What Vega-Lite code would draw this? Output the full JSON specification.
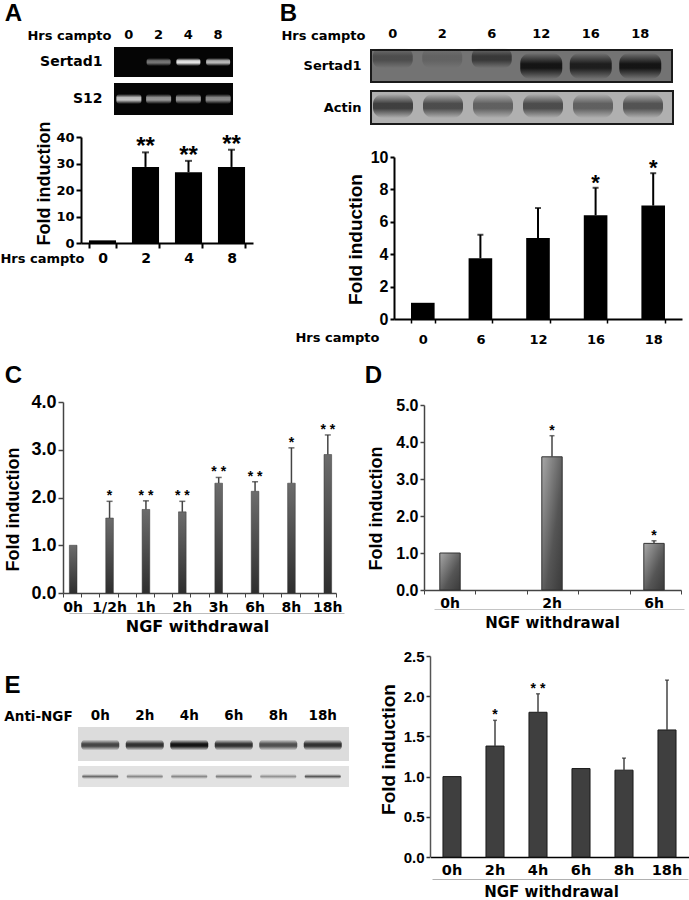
{
"$schema":"https://vega.github.io/schema/vega-lite/v6.json",
"width":689,"height":900,"padding":0,"autosize":{"type":"none"},"background":"#ffffff",
"config":{"view":{"stroke":null},"font":"Liberation Sans",
 "axis":{"grid":false,"labelOverlap":false,"labelFlush":false,"labelBound":false,"labelFontWeight":"bold","titleFontWeight":"bold","labelColor":"#000","titleColor":"#000","domainColor":"#000","tickColor":"#000","labelFont":"DejaVu Sans","titleFont":"DejaVu Sans"},
 "axisX":{"labelAngle":0},"axisY":{"labelAngle":0}},
"resolve":{"scale":{"x":"independent","y":"independent"},"axis":{"x":"independent","y":"independent"}},
"layer":[
{"data":{"values":[{"gel":"Sertad1"}]},"mark":{"type":"rect","color":"#050505"},
 "encoding":{"x":{"field":"gel","type":"nominal","axis":null,"scale":{"range":[114,233],"padding":0}},
  "y":{"field":"gel","type":"nominal","scale":{"range":[47,77],"padding":0},
   "axis":{"orient":"left","offset":-114,"domain":false,"ticks":false,"labelPadding":12,"labelFontSize":14,"title":"A","titleFont":"Liberation Sans","titleFontSize":24,"titleAngle":0,"titleX":-101,"titleY":13,"titleBaseline":"middle"}}}},
{"data":{"values":[{"gel":"Sertad1","lane":"0","intensity":0},{"gel":"Sertad1","lane":"2","intensity":0.5},{"gel":"Sertad1","lane":"4","intensity":1},{"gel":"Sertad1","lane":"8","intensity":0.8}]},
 "mark":{"type":"rect","width":24,"height":8,"cornerRadius":3,"color":{"gradient":"linear","x1":0,"y1":0,"x2":0,"y2":1,"stops":[{"offset":0,"color":"rgba(255,255,255,0)"},{"offset":0.35,"color":"rgba(255,255,255,0.85)"},{"offset":0.6,"color":"rgba(255,255,255,0.9)"},{"offset":1,"color":"rgba(255,255,255,0)"}]}},
 "encoding":{"opacity":{"field":"intensity","type":"quantitative","scale":null,"legend":null},
  "x":{"field":"lane","type":"nominal","scale":{"domain":["0","2","4","8"],"range":[114,233],"padding":0},
   "axis":{"orient":"top","offset":-44,"domain":false,"ticks":false,"labelPadding":3,"labelFontSize":13,"title":"Hrs campto","titleFontSize":13,"titleX":69,"titleY":-9,"titleBaseline":"middle"}},
  "y":{"field":"gel","type":"nominal","axis":null,"scale":{"range":[47,77],"padding":0}}}},
{"data":{"values":[{"gel":"S12"}]},"mark":{"type":"rect","color":"#050505"},
 "encoding":{"x":{"field":"gel","type":"nominal","axis":null,"scale":{"range":[114,233],"padding":0}},
  "y":{"field":"gel","type":"nominal","scale":{"range":[83,115],"padding":0},
   "axis":{"orient":"left","offset":-114,"domain":false,"ticks":false,"labelPadding":12,"labelFontSize":14,"title":null}}}},
{"data":{"values":[{"gel":"S12","lane":"0","intensity":0.85},{"gel":"S12","lane":"2","intensity":0.65},{"gel":"S12","lane":"4","intensity":0.65},{"gel":"S12","lane":"8","intensity":0.6}]},
 "mark":{"type":"rect","width":25,"height":10,"cornerRadius":3,"color":{"gradient":"linear","x1":0,"y1":0,"x2":0,"y2":1,"stops":[{"offset":0,"color":"rgba(255,255,255,0)"},{"offset":0.35,"color":"rgba(255,255,255,0.85)"},{"offset":0.6,"color":"rgba(255,255,255,0.9)"},{"offset":1,"color":"rgba(255,255,255,0)"}]}},
 "encoding":{"opacity":{"field":"intensity","type":"quantitative","scale":null,"legend":null},
  "x":{"field":"lane","type":"nominal","axis":null,"scale":{"domain":["0","2","4","8"],"range":[114,233],"padding":0}},
  "y":{"field":"gel","type":"nominal","axis":null,"scale":{"range":[83,115],"padding":0}}}},
{"data":{"values":[{"hrs":"0","fold":1},{"hrs":"2","fold":28.7,"err":34.2,"sig":"**"},{"hrs":"4","fold":26.7,"err":31,"sig":"**"},{"hrs":"8","fold":28.7,"err":35.2,"sig":"**"}]},
 "encoding":{"x":{"field":"hrs","type":"nominal","scale":{"domain":["0","2","4","8"],"range":[81,253],"paddingInner":0.37,"paddingOuter":0.185},
  "axis":{"orient":"bottom","offset":-657,"domainWidth":2,"ticks":true,"tickBand":"extent","tickSize":5,"tickWidth":2,"labelPadding":3,"labelFontSize":14,"title":"Hrs campto","titleFontSize":13,"titleX":42,"titleY":15,"titleBaseline":"middle"}}},
 "layer":[
 {"mark":{"type":"bar","color":"#000"},"encoding":{"y":{"field":"fold","type":"quantitative","scale":{"domain":[0,40],"range":[243,137],"nice":false},
   "axis":{"orient":"left","offset":-81,"values":[0,10,20,30,40],"format":"d","domainWidth":2,"tickSize":5,"tickWidth":2,"labelFontSize":13,"labelPadding":2,"title":"Fold induction","titleFont":"Liberation Sans","titleFontSize":18,"titleX":-37,"titleY":183,"titleBaseline":"middle"}}}},
 {"transform":[{"filter":"isValid(datum.err)"}],"mark":{"type":"rule","color":"#000","strokeWidth":2},"encoding":{"y":{"field":"fold","type":"quantitative","scale":{"domain":[0,40],"range":[243,137],"nice":false}},"y2":{"field":"err"}}},
 {"transform":[{"filter":"isValid(datum.err)"}],"mark":{"type":"tick","color":"#000","size":7,"thickness":2},"encoding":{"y":{"field":"err","type":"quantitative","scale":{"domain":[0,40],"range":[243,137],"nice":false}}}},
 {"transform":[{"filter":"isValid(datum.err)"}],"mark":{"type":"text","fontSize":24,"fontWeight":"bold","color":"#000","baseline":"alphabetic","dy":2},"encoding":{"y":{"field":"err","type":"quantitative","scale":{"domain":[0,40],"range":[243,137],"nice":false}},"text":{"field":"sig"}}}
 ]},
{"data":{"values":[{"gel":"Sertad1"}]},"mark":{"type":"rect","color":"#737373","stroke":"#1a1a1a","strokeWidth":2},
 "encoding":{"x":{"field":"gel","type":"nominal","axis":null,"scale":{"range":[371,672],"padding":0}},
  "y":{"field":"gel","type":"nominal","scale":{"range":[50,82],"padding":0},
   "axis":{"orient":"left","offset":-371,"domain":false,"ticks":false,"labelPadding":10,"labelFontSize":13,"title":"B","titleFont":"Liberation Sans","titleFontSize":24,"titleAngle":0,"titleX":-83,"titleY":13,"titleBaseline":"middle"}}}},
{"data":{"values":[{"gel":"Sertad1","lane":"0","intensity":0.45},{"gel":"Sertad1","lane":"2","intensity":0.2},{"gel":"Sertad1","lane":"6","intensity":0.7}]},
 "mark":{"type":"rect","width":40,"height":20,"cornerRadius":8,"color":{"gradient":"linear","x1":0,"y1":0,"x2":0,"y2":1,"stops":[{"offset":0,"color":"rgba(10,10,10,0)"},{"offset":0.4,"color":"rgba(10,10,10,0.8)"},{"offset":0.6,"color":"rgba(10,10,10,0.8)"},{"offset":1,"color":"rgba(10,10,10,0)"}]}},
 "encoding":{"opacity":{"field":"intensity","type":"quantitative","scale":null,"legend":null},
  "x":{"field":"lane","type":"nominal","scale":{"domain":["0","2","6","12","16","18"],"range":[368,665],"padding":0},
   "axis":{"orient":"top","offset":-43,"domain":false,"ticks":false,"labelPadding":3,"labelFontSize":13,"title":"Hrs campto","titleFontSize":13,"titleX":323,"titleY":-8,"titleBaseline":"middle"}},
  "y":{"field":"gel","type":"nominal","axis":null,"scale":{"range":[42,74],"padding":0}}}},
{"data":{"values":[{"gel":"Sertad1","lane":"12","intensity":1},{"gel":"Sertad1","lane":"16","intensity":0.9},{"gel":"Sertad1","lane":"18","intensity":1}]},
 "mark":{"type":"rect","width":42,"height":26,"cornerRadius":10,"color":{"gradient":"linear","x1":0,"y1":0,"x2":0,"y2":1,"stops":[{"offset":0,"color":"rgba(10,10,10,0)"},{"offset":0.42,"color":"rgba(10,10,10,0.9)"},{"offset":0.58,"color":"rgba(10,10,10,0.9)"},{"offset":1,"color":"rgba(10,10,10,0)"}]}},
 "encoding":{"opacity":{"field":"intensity","type":"quantitative","scale":null,"legend":null},
  "x":{"field":"lane","type":"nominal","axis":null,"scale":{"domain":["0","2","6","12","16","18"],"range":[368,665],"padding":0}},
  "y":{"field":"gel","type":"nominal","axis":null,"scale":{"range":[50,82],"padding":0}}}},
{"data":{"values":[{"gel":"Actin"}]},"mark":{"type":"rect","color":"#b0b0b0","stroke":"#1a1a1a","strokeWidth":2},
 "encoding":{"x":{"field":"gel","type":"nominal","axis":null,"scale":{"range":[371,673],"padding":0}},
  "y":{"field":"gel","type":"nominal","scale":{"range":[91,124],"padding":0},
   "axis":{"orient":"left","offset":-371,"domain":false,"ticks":false,"labelPadding":10,"labelFontSize":13,"title":null}}}},
{"data":{"values":[{"gel":"Actin","lane":"0","intensity":0.85},{"gel":"Actin","lane":"2","intensity":0.75},{"gel":"Actin","lane":"6","intensity":0.6},{"gel":"Actin","lane":"12","intensity":0.75},{"gel":"Actin","lane":"16","intensity":0.6},{"gel":"Actin","lane":"18","intensity":0.7}]},
 "mark":{"type":"rect","width":40,"height":24,"cornerRadius":10,"color":{"gradient":"linear","x1":0,"y1":0,"x2":0,"y2":1,"stops":[{"offset":0,"color":"rgba(20,20,20,0)"},{"offset":0.4,"color":"rgba(20,20,20,0.85)"},{"offset":0.6,"color":"rgba(20,20,20,0.85)"},{"offset":1,"color":"rgba(20,20,20,0)"}]}},
 "encoding":{"opacity":{"field":"intensity","type":"quantitative","scale":null,"legend":null},
  "x":{"field":"lane","type":"nominal","axis":null,"scale":{"domain":["0","2","6","12","16","18"],"range":[368,668],"padding":0}},
  "y":{"field":"gel","type":"nominal","axis":null,"scale":{"range":[90,122],"padding":0}}}},
{"data":{"values":[{"hrs":"0","fold":1},{"hrs":"6","fold":3.75,"err":5.2},{"hrs":"12","fold":5,"err":6.85},{"hrs":"16","fold":6.4,"err":8.1,"sig":"*"},{"hrs":"18","fold":7,"err":9,"sig":"*"}]},
 "encoding":{"x":{"field":"hrs","type":"nominal","scale":{"domain":["0","6","12","16","18"],"range":[394,682],"paddingInner":0.59,"paddingOuter":0.295},
  "axis":{"orient":"bottom","offset":-581,"domainWidth":2,"ticks":true,"tickBand":"extent","tickSize":4,"tickWidth":1.5,"labelPadding":10,"labelFontSize":13,"title":"Hrs campto","titleFontSize":13,"titleX":337,"titleY":18,"titleBaseline":"middle"}}},
 "layer":[
 {"mark":{"type":"bar","color":"#000"},"encoding":{"y":{"field":"fold","type":"quantitative","scale":{"domain":[0,10],"range":[319,157],"nice":false},
   "axis":{"orient":"left","offset":-394,"values":[0,2,4,6,8,10],"format":"d","domainWidth":2,"tickSize":4,"tickWidth":2,"labelFont":"Liberation Sans","labelFontSize":16,"labelPadding":2,"title":"Fold induction","titleFont":"Liberation Sans","titleFontSize":19,"titleX":-39,"titleY":239,"titleBaseline":"middle"}}}},
 {"transform":[{"filter":"isValid(datum.err)"}],"mark":{"type":"rule","color":"#000","strokeWidth":2},"encoding":{"y":{"field":"fold","type":"quantitative","scale":{"domain":[0,10],"range":[319,157],"nice":false}},"y2":{"field":"err"}}},
 {"transform":[{"filter":"isValid(datum.err)"}],"mark":{"type":"tick","color":"#000","size":6,"thickness":2},"encoding":{"y":{"field":"err","type":"quantitative","scale":{"domain":[0,10],"range":[319,157],"nice":false}}}},
 {"transform":[{"filter":"isValid(datum.sig)"}],"mark":{"type":"text","fontSize":22,"fontWeight":"bold","color":"#000","baseline":"alphabetic","dy":2},"encoding":{"y":{"field":"err","type":"quantitative","scale":{"domain":[0,10],"range":[319,157],"nice":false}},"text":{"field":"sig"}}}
 ]},
{"data":{"values":[{"slot":0}]},"mark":{"type":"rule","opacity":0},
 "encoding":{"x":{"field":"slot","type":"quantitative","scale":{"domain":[0,15],"range":[63,336],"nice":false},
  "axis":{"orient":"bottom","offset":-307,"values":[0,1,2,3,4,5,6,7,8,9,10,11,12,13,14,15],"labels":false,"domainColor":"#444","domainWidth":1.5,"tickColor":"#444","tickSize":4,"tickWidth":1,"title":"C","titleFont":"Liberation Sans","titleFontSize":24,"titleX":13,"titleY":-218,"titleBaseline":"middle"}}}},
{"data":{"values":[{"slot":0}]},"mark":{"type":"rule","opacity":0},
 "encoding":{"x":{"field":"slot","type":"quantitative","scale":{"domain":[0,1],"range":[69,344],"nice":false},
  "axis":{"orient":"bottom","offset":-287,"labels":false,"ticks":false,"domainColor":"#bdbdbd","domainWidth":1,"title":null}}}},
{"data":{"values":[{"t":"0h","fold":1},{"t":"1/2h","fold":1.57,"err":1.92,"sig":"*"},{"t":"1h","fold":1.75,"err":1.93,"sig":"* *"},{"t":"2h","fold":1.7,"err":1.92,"sig":"* *"},{"t":"3h","fold":2.3,"err":2.42,"sig":"* *"},{"t":"6h","fold":2.13,"err":2.33,"sig":"* *"},{"t":"8h","fold":2.3,"err":3.04,"sig":"*"},{"t":"18h","fold":2.9,"err":3.31,"sig":"* *"}]},
 "encoding":{"x":{"field":"t","type":"nominal","scale":{"domain":["0h","1/2h","1h","2h","3h","6h","8h","18h"],"range":[55,346],"paddingInner":0.79,"paddingOuter":0.395},
  "axis":{"orient":"bottom","offset":-307,"domain":false,"ticks":false,"labelPadding":7,"labelFontSize":14,"title":"NGF withdrawal","titleFontSize":16,"titleX":197,"titleY":33,"titleBaseline":"middle"}}},
 "layer":[
 {"mark":{"type":"bar","stroke":"#333","strokeWidth":0.5,"color":{"gradient":"linear","x1":0,"y1":0,"x2":0,"y2":1,"stops":[{"offset":0,"color":"#6c6c6c"},{"offset":1,"color":"#2e2e2e"}]}},"encoding":{"y":{"field":"fold","type":"quantitative","scale":{"domain":[0,4],"range":[593,402],"nice":false},
   "axis":{"orient":"left","offset":-63,"values":[0,1,2,3,4],"format":".1f","domainColor":"#444","domainWidth":1.5,"tickColor":"#444","tickSize":5,"tickWidth":1.5,"labelFont":"Liberation Sans","labelFontSize":18,"labelPadding":2,"title":"Fold induction","titleFont":"Liberation Sans","titleFontSize":18,"titleX":-50,"titleY":509,"titleBaseline":"middle"}}}},
 {"transform":[{"filter":"isValid(datum.err)"}],"mark":{"type":"rule","color":"#444","strokeWidth":1.5},"encoding":{"y":{"field":"fold","type":"quantitative","scale":{"domain":[0,4],"range":[593,402],"nice":false}},"y2":{"field":"err"}}},
 {"transform":[{"filter":"isValid(datum.err)"}],"mark":{"type":"tick","color":"#333","size":6,"thickness":1.5},"encoding":{"y":{"field":"err","type":"quantitative","scale":{"domain":[0,4],"range":[593,402],"nice":false}}}},
 {"transform":[{"filter":"isValid(datum.sig)"}],"mark":{"type":"text","fontSize":14,"fontWeight":"bold","color":"#000","baseline":"alphabetic","dy":-1},"encoding":{"y":{"field":"err","type":"quantitative","scale":{"domain":[0,4],"range":[593,402],"nice":false}},"text":{"field":"sig"}}}
 ]},
{"data":{"values":[{"slot":0}]},"mark":{"type":"rule","opacity":0},
 "encoding":{"x":{"field":"slot","type":"quantitative","scale":{"domain":[0,5],"range":[424,681],"nice":false},
  "axis":{"orient":"bottom","offset":-310,"values":[0,1,2,3,4,5],"labels":false,"domainColor":"#444","domainWidth":1.5,"tickColor":"#444","tickSize":4,"tickWidth":1,"title":"D","titleFont":"Liberation Sans","titleFontSize":24,"titleX":373,"titleY":-215,"titleBaseline":"middle"}}}},
{"data":{"values":[{"slot":0}]},"mark":{"type":"rule","opacity":0},
 "encoding":{"x":{"field":"slot","type":"quantitative","scale":{"domain":[0,1],"range":[434,684],"nice":false},
  "axis":{"orient":"bottom","offset":-291,"labels":false,"ticks":false,"domainColor":"#c4c4c4","domainWidth":1,"title":null}}}},
{"data":{"values":[{"t":"0h","fold":1},{"t":"2h","fold":3.6,"err":4.17,"sig":"*"},{"t":"6h","fold":1.26,"err":1.33,"sig":"*"}]},
 "encoding":{"x":{"field":"t","type":"nominal","scale":{"domain":["0h","2h","6h"],"range":[399,705],"paddingInner":0.8,"paddingOuter":0.4},
  "axis":{"orient":"bottom","offset":-310,"domain":false,"ticks":false,"labelPadding":6,"labelFontSize":14,"title":"NGF withdrawal","titleFontSize":15,"titleX":552,"titleY":32,"titleBaseline":"middle"}}},
 "layer":[
 {"mark":{"type":"bar","stroke":"#333","strokeWidth":1,"color":{"gradient":"linear","x1":0,"y1":0,"x2":1,"y2":1,"stops":[{"offset":0,"color":"#a8a8a8"},{"offset":0.6,"color":"#555555"},{"offset":1,"color":"#3a3a3a"}]}},"encoding":{"y":{"field":"fold","type":"quantitative","scale":{"domain":[0,5],"range":[590,405],"nice":false},
   "axis":{"orient":"left","offset":-424,"values":[0,1,2,3,4,5],"format":".1f","domainColor":"#444","domainWidth":1.5,"tickColor":"#444","tickSize":4,"tickWidth":1.5,"labelFont":"Liberation Sans","labelFontSize":16,"labelPadding":2,"title":"Fold induction","titleFont":"Liberation Sans","titleFontSize":18,"titleX":-48,"titleY":508,"titleBaseline":"middle"}}}},
 {"transform":[{"filter":"isValid(datum.err)"}],"mark":{"type":"rule","color":"#444","strokeWidth":1.5},"encoding":{"y":{"field":"fold","type":"quantitative","scale":{"domain":[0,5],"range":[590,405],"nice":false}},"y2":{"field":"err"}}},
 {"transform":[{"filter":"isValid(datum.err)"}],"mark":{"type":"tick","color":"#333","size":5,"thickness":1.5},"encoding":{"y":{"field":"err","type":"quantitative","scale":{"domain":[0,5],"range":[590,405],"nice":false}}}},
 {"transform":[{"filter":"isValid(datum.sig)"}],"mark":{"type":"text","fontSize":14,"fontWeight":"bold","color":"#000","baseline":"alphabetic","dy":-1},"encoding":{"y":{"field":"err","type":"quantitative","scale":{"domain":[0,5],"range":[590,405],"nice":false}},"text":{"field":"sig"}}}
 ]},
{"data":{"values":[{"gel":"top"}]},"mark":{"type":"rect","color":"#dcdcdc"},
 "encoding":{"x":{"field":"gel","type":"nominal","axis":null,"scale":{"range":[78,349],"padding":0}},
  "y":{"field":"gel","type":"nominal","scale":{"range":[727,761],"padding":0},
   "axis":{"orient":"left","offset":-78,"domain":false,"ticks":false,"labels":false,"title":"E","titleFont":"Liberation Sans","titleFontSize":24,"titleAngle":0,"titleX":-66,"titleY":685,"titleBaseline":"middle"}}}},
{"data":{"values":[{"gel":"top","lane":"0h","intensity":0.75},{"gel":"top","lane":"2h","intensity":0.85},{"gel":"top","lane":"4h","intensity":1},{"gel":"top","lane":"6h","intensity":0.85},{"gel":"top","lane":"8h","intensity":0.7},{"gel":"top","lane":"18h","intensity":0.85}]},
 "mark":{"type":"rect","width":38,"height":11,"cornerRadius":4,"color":{"gradient":"linear","x1":0,"y1":0,"x2":0,"y2":1,"stops":[{"offset":0,"color":"rgba(20,20,20,0)"},{"offset":0.4,"color":"#141414"},{"offset":0.6,"color":"#141414"},{"offset":1,"color":"rgba(20,20,20,0)"}]}},
 "encoding":{"opacity":{"field":"intensity","type":"quantitative","scale":null,"legend":null},
  "x":{"field":"lane","type":"nominal","scale":{"domain":["0h","2h","4h","6h","8h","18h"],"range":[78,345],"padding":0},
   "axis":{"orient":"top","offset":-724,"domain":false,"ticks":false,"labelPadding":2,"labelFontSize":13.5,"title":"Anti-NGF","titleFontSize":13.5,"titleX":38,"titleY":-8,"titleBaseline":"middle"}},
  "y":{"field":"gel","type":"nominal","axis":null,"scale":{"range":[730,760],"padding":0}}}},
{"data":{"values":[{"gel":"bottom"}]},"mark":{"type":"rect","color":"#e2e2e2"},
 "encoding":{"x":{"field":"gel","type":"nominal","axis":null,"scale":{"range":[78,349],"padding":0}},
  "y":{"field":"gel","type":"nominal","axis":null,"scale":{"range":[766,787],"padding":0}}}},
{"data":{"values":[{"gel":"bottom","lane":"0h","intensity":0.6},{"gel":"bottom","lane":"2h","intensity":0.45},{"gel":"bottom","lane":"4h","intensity":0.45},{"gel":"bottom","lane":"6h","intensity":0.5},{"gel":"bottom","lane":"8h","intensity":0.4},{"gel":"bottom","lane":"18h","intensity":0.7}]},
 "mark":{"type":"rect","width":36,"height":5,"cornerRadius":2,"color":{"gradient":"linear","x1":0,"y1":0,"x2":0,"y2":1,"stops":[{"offset":0,"color":"rgba(30,30,30,0)"},{"offset":0.5,"color":"#1e1e1e"},{"offset":1,"color":"rgba(30,30,30,0)"}]}},
 "encoding":{"opacity":{"field":"intensity","type":"quantitative","scale":null,"legend":null},
  "x":{"field":"lane","type":"nominal","axis":null,"scale":{"domain":["0h","2h","4h","6h","8h","18h"],"range":[78,345],"padding":0}},
  "y":{"field":"gel","type":"nominal","axis":null,"scale":{"range":[766,787],"padding":0}}}},
{"data":{"values":[{"slot":0}]},"mark":{"type":"rule","opacity":0},
 "encoding":{"x":{"field":"slot","type":"quantitative","scale":{"domain":[0,1],"range":[432,688],"nice":false},
  "axis":{"orient":"bottom","offset":-21,"labels":false,"ticks":false,"domainColor":"#b0b0b0","domainWidth":1,"title":null}}}},
{"data":{"values":[{"t":"0h","fold":1},{"t":"2h","fold":1.38,"err":1.7,"sig":"*"},{"t":"4h","fold":1.8,"err":2.03,"sig":"* *"},{"t":"6h","fold":1.1},{"t":"8h","fold":1.08,"err":1.23},{"t":"18h","fold":1.58,"err":2.2}]},
 "encoding":{"x":{"field":"t","type":"nominal","scale":{"domain":["0h","2h","4h","6h","8h","18h"],"range":[430.5,688.5],"paddingInner":0.58,"paddingOuter":0.29},
  "axis":{"orient":"bottom","offset":-43,"domainWidth":1.5,"ticks":false,"labelPadding":6,"labelFontSize":14.5,"title":"NGF withdrawal","titleFontSize":15,"titleX":551,"titleY":34,"titleBaseline":"middle"}}},
 "layer":[
 {"mark":{"type":"bar","stroke":"#1a1a1a","strokeWidth":1,"color":"#3f3f3f"},"encoding":{"y":{"field":"fold","type":"quantitative","scale":{"domain":[0,2.5],"range":[857,656],"nice":false},
   "axis":{"orient":"left","offset":-430,"values":[0,0.5,1,1.5,2,2.5],"format":".1f","domainColor":"#555","domainWidth":1.5,"tickColor":"#333","tickSize":4,"tickWidth":1.5,"labelFont":"Liberation Sans","labelFontSize":15,"labelPadding":2,"title":"Fold induction","titleFont":"Liberation Sans","titleFontSize":19,"titleX":-42,"titleY":749,"titleBaseline":"middle"}}}},
 {"transform":[{"filter":"isValid(datum.err)"}],"mark":{"type":"rule","color":"#444","strokeWidth":1.5},"encoding":{"y":{"field":"fold","type":"quantitative","scale":{"domain":[0,2.5],"range":[857,656],"nice":false}},"y2":{"field":"err"}}},
 {"transform":[{"filter":"isValid(datum.err)"}],"mark":{"type":"tick","color":"#333","size":4,"thickness":1.5},"encoding":{"y":{"field":"err","type":"quantitative","scale":{"domain":[0,2.5],"range":[857,656],"nice":false}}}},
 {"transform":[{"filter":"isValid(datum.sig)"}],"mark":{"type":"text","fontSize":14,"fontWeight":"bold","color":"#000","baseline":"alphabetic","dy":-1},"encoding":{"y":{"field":"err","type":"quantitative","scale":{"domain":[0,2.5],"range":[857,656],"nice":false}},"text":{"field":"sig"}}}
 ]}
]}
